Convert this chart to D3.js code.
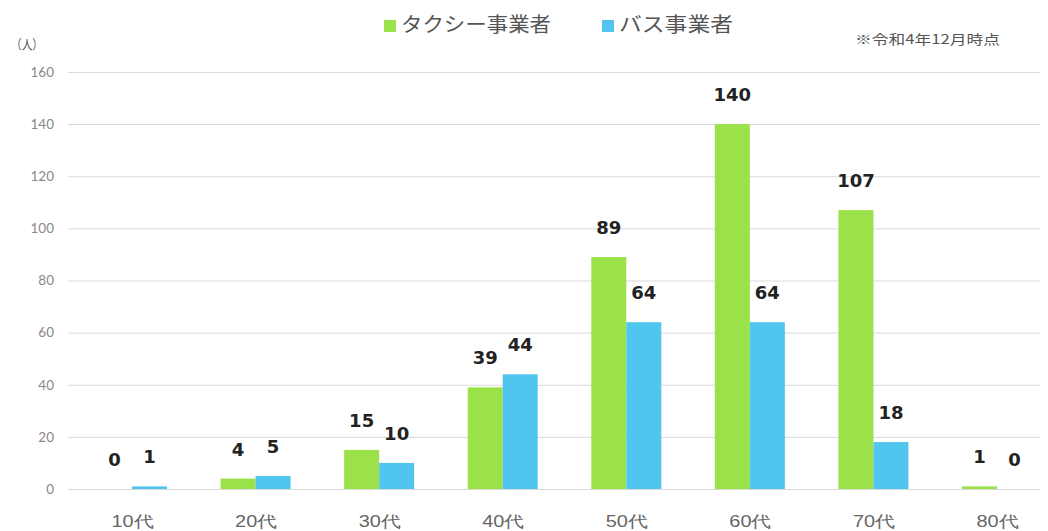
<!DOCTYPE html>
<html>
<head>
<meta charset="utf-8">
<script src="https://cdn.jsdelivr.net/npm/d3@7"></script>
<style>
  body { margin: 0; background: #fff; }
  svg { font-family: "Noto Sans CJK JP", "Noto Sans", sans-serif; }
</style>
</head>
<body>
<div id="chart1"></div>
<script>

// data
var categories = ["10代", "20代", "30代", "40代", "50代", "60代", "70代", "80代"];
var taxi = [0, 4, 15, 39, 89, 140, 107, 1];
var bus = [1, 5, 10, 44, 64, 64, 18, 0];
var seriesNames = ["タクシー事業者", "バス事業者"];
var yTicks = [0, 20, 40, 60, 80, 100, 120, 140, 160];

var colors = ["#9be24a", "#50c6ee"];

var W = 1048, H = 531;
var plotLeft = 68, plotRight = 1040;
var barW = 35;

var svg = d3.select("#chart1")
  .append("svg")
    .attr("width", W)
    .attr("height", H);

var xScale = d3.scalePoint()
  .domain(categories)
  .range([132, 997]);

var yScale = d3.scaleLinear()
  .domain([0, 160])
  .range([489, 72]);

var series = [taxi, bus];

// grid + y labels
var yAxis = d3.axisLeft(yScale)
  .tickValues(yTicks)
  .tickSize(-(plotRight - plotLeft))
  .tickPadding(14);

var gy = svg.append("g")
  .attr("transform", "translate(" + plotLeft + ",0)")
  .call(yAxis);
gy.select(".domain").remove();
gy.selectAll(".tick line").attr("stroke", "#d9d9d9").attr("stroke-width", 1);
gy.selectAll(".tick text")
  .attr("fill", "#888")
  .style("font-size", "13.5px")
  .style("font-family", "Lato, 'Noto Sans', sans-serif");

// x labels
var xAxis = d3.axisBottom(xScale).tickSize(0);
var gx = svg.append("g")
  .attr("transform", "translate(0,489)")
  .call(xAxis);
gx.select(".domain").remove();
gx.selectAll(".tick text")
  .attr("y", 38)
  .attr("dy", 0)
  .attr("fill", "#666")
  .attr("textLength", 42)
  .attr("lengthAdjust", "spacingAndGlyphs")
  .style("font-size", "16px");

// bars
series.forEach(function (vals, si) {
  var off = si === 0 ? -barW : 0;
  svg.append("g").selectAll("rect")
    .data(vals)
    .enter()
    .append("rect")
      .attr("x", function (d, i) { return xScale(categories[i]) + off; })
      .attr("y", function (d) { return yScale(d); })
      .attr("width", barW)
      .attr("height", function (d) { return yScale(0) - yScale(d); })
      .attr("fill", colors[si]);

  svg.append("g").selectAll("text")
    .data(vals)
    .enter()
    .append("text")
      .attr("x", function (d, i) { return xScale(categories[i]) + off + barW / 2; })
      .attr("y", function (d) { return yScale(d) - 23; })
      .attr("text-anchor", "middle")
      .attr("fill", "#222")
      .style("font-size", "18px")
      .style("font-weight", "bold")
      .style("font-family", "'DejaVu Sans', sans-serif")
      .text(function (d) { return d; });
});

// legend
var legendX = [384, 602];
var legendW = [150, 114];
seriesNames.forEach(function (name, i) {
  svg.append("rect")
    .attr("x", legendX[i])
    .attr("y", 20)
    .attr("width", 12)
    .attr("height", 12)
    .attr("fill", colors[i]);
  svg.append("text")
    .attr("x", legendX[i] + 17)
    .attr("y", 32)
    .attr("fill", "#555")
    .attr("textLength", legendW[i])
    .attr("lengthAdjust", "spacingAndGlyphs")
    .style("font-size", "20px")
    .text(name);
});

svg.append("text")
  .attr("x", 11)
  .attr("y", 49)
  .attr("fill", "#555")
  .attr("textLength", 32)
  .attr("lengthAdjust", "spacingAndGlyphs")
  .style("font-size", "13px")
  .text("（人）");

svg.append("text")
  .attr("x", 855)
  .attr("y", 44)
  .attr("fill", "#555")
  .attr("textLength", 145)
  .attr("lengthAdjust", "spacingAndGlyphs")
  .style("font-size", "13px")
  .text("※令和4年12月時点");

</script>
</body>
</html>
